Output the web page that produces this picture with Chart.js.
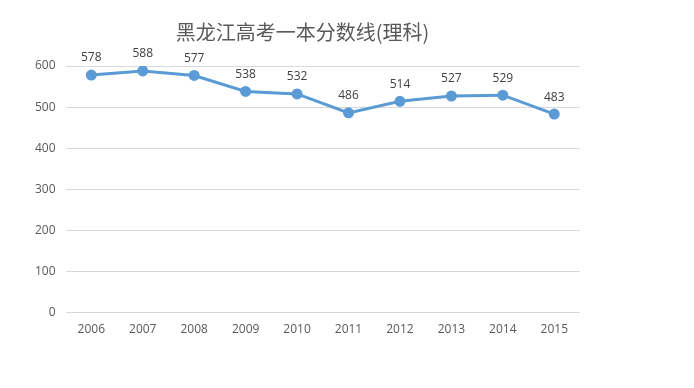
<!DOCTYPE html>
<html>
<head>
<meta charset="utf-8">
<script src="https://cdn.jsdelivr.net/npm/chart.js@4/dist/chart.umd.min.js"></script>
<style>
  html, body { margin: 0; padding: 0; background: #fff; }
  #wrap { width: 694px; height: 388px; }
</style>
</head>
<body>
<div id="wrap"><canvas id="line"></canvas></div>
<script>
// chart data
const years = ['2006', '2007', '2008', '2009', '2010', '2011', '2012', '2013', '2014', '2015'];
const scores = [578, 588, 577, 538, 532, 486, 514, 527, 529, 483];
const yTicks = [0, 100, 200, 300, 400, 500, 600];

// draws the value above each point
const pointLabels = {
  id: 'pointLabels',
  afterDatasetsDraw(chart) {
    const ctx = chart.ctx;
    const meta = chart.getDatasetMeta(0);
    ctx.save();
    ctx.font = '12px "Open Sans", "Liberation Sans", sans-serif';
    ctx.fillStyle = '#404040';
    ctx.textAlign = 'center';
    ctx.textBaseline = 'bottom';
    meta.data.forEach((pt, i) => {
      ctx.fillText(String(scores[i]), pt.x, pt.y - 11);
    });
    ctx.restore();
  }
};

const lineConfig = {
  type: 'line',
  data: {
    labels: years,
    datasets: [{
      data: scores,
      borderColor: '#5B9BD5',
      backgroundColor: '#5B9BD5',
      borderWidth: 3,
      pointRadius: 4,
      pointHoverRadius: 4,
      tension: 0
    }]
  },
  options: {
    responsive: true,
    maintainAspectRatio: false,
    animation: false,
    layout: { padding: { top: 10, left: 25, right: 114, bottom: 41 } },
    plugins: {
      legend: { display: false },
      tooltip: { enabled: false },
      title: {
        display: true,
        text: '黑龙江高考一本分数线(理科)',
        color: '#595959',
        font: { family: '"Noto Sans CJK SC", sans-serif', size: 20, weight: 'normal' },
        padding: { top: 10, bottom: 22 }
      }
    },
    scales: {
      x: {
        offset: true,
        grid: { display: false, drawTicks: false },
        border: { display: false },
        ticks: {
          color: '#595959',
          padding: 10,
          font: { family: '"Open Sans", "Liberation Sans", sans-serif', size: 12 }
        }
      },
      y: {
        min: 0,
        max: 600,
        afterBuildTicks: (axis) => { axis.ticks = yTicks.map(v => ({ value: v })); },
        grid: { color: '#D9D9D9', drawTicks: false },
        border: { display: false },
        ticks: {
          color: '#595959',
          padding: 10,
          font: { family: '"Open Sans", "Liberation Sans", sans-serif', size: 12 }
        }
      }
    }
  },
  plugins: [pointLabels]
};

window.myLine = new Chart(document.getElementById('line'), lineConfig);
</script>
</body>
</html>
